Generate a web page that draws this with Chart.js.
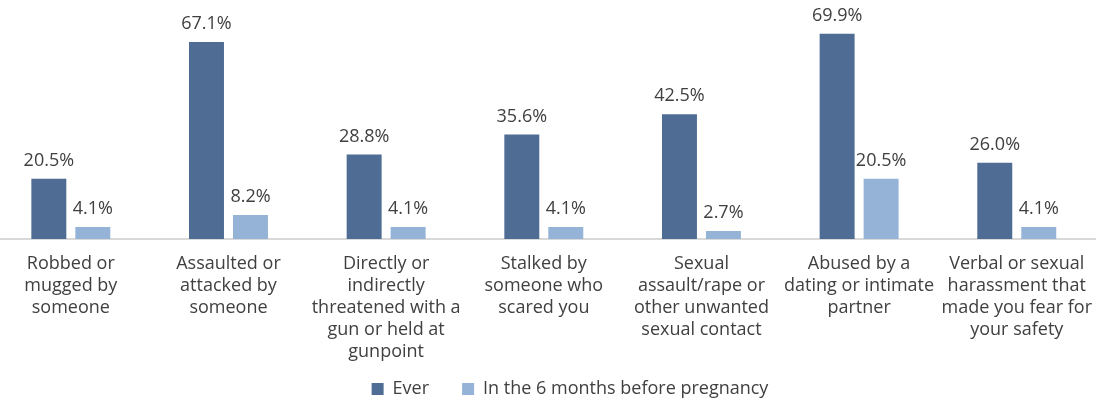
<!DOCTYPE html>
<html>
<head>
<meta charset="utf-8">
<script src="https://cdn.jsdelivr.net/npm/chart.js@4.4.0/dist/chart.umd.min.js"></script>
<style>
  html, body { margin: 0; padding: 0; background: #fff; overflow: hidden; }
  #wrap { position: absolute; left: -8px; top: 0; width: 1106px; height: 401px; }
</style>
</head>
<body>
<div id="wrap"><canvas id="chart"></canvas></div>
<script>
const categories = [
  ["Robbed or", "mugged by", "someone"],
  ["Assaulted or", "attacked by", "someone"],
  ["Directly or", "indirectly", "threatened with a", "gun or held at", "gunpoint"],
  ["Stalked by", "someone who", "scared you"],
  ["Sexual", "assault/rape or", "other unwanted", "sexual contact"],
  ["Abused by a", "dating or intimate", "partner"],
  ["Verbal or sexual", "harassment that", "made you fear for", "your safety"]
];
const everValues = [20.5, 67.1, 28.8, 35.6, 42.5, 69.9, 26.0];
const sixMonthValues = [4.1, 8.2, 4.1, 4.1, 2.7, 20.5, 4.1];

const textColor = "#404040";
const fontFamily = "'Open Sans', 'Noto Sans', sans-serif";

// draws the percentage above each bar
const valueLabels = {
  id: "valueLabels",
  afterDatasetsDraw(chart) {
    const ctx = chart.ctx;
    ctx.save();
    ctx.font = "18px " + fontFamily;
    ctx.fillStyle = textColor;
    ctx.textAlign = "center";
    ctx.textBaseline = "middle";
    chart.data.datasets.forEach(function (ds, i) {
      chart.getDatasetMeta(i).data.forEach(function (bar, j) {
        ctx.fillText(ds.data[j].toFixed(1) + "%", bar.x, bar.y - 18);
      });
    });
    ctx.restore();
  }
};

// nudge the legend so it sits where the original one was
const legendShift = {
  id: "legendShift",
  afterLayout(chart) {
    const lg = chart.legend;
    lg.left += 25;
    lg.right += 25;
    lg.top -= 22;
    lg.bottom -= 22;
  }
};

document.addEventListener("DOMContentLoaded", function () {
  new Chart(document.getElementById("chart").getContext("2d"), {
    type: "bar",
    data: {
      labels: categories,
      datasets: [
        {
          label: "Ever",
          data: everValues,
          backgroundColor: "#4f6d94",
          categoryPercentage: 0.558,
          barPercentage: 0.795,
        },
        {
          label: "In the 6 months before pregnancy",
          data: sixMonthValues,
          backgroundColor: "#95b3d7",
          categoryPercentage: 0.558,
          barPercentage: 0.795,
        },
      ],
    },
    plugins: [valueLabels, legendShift],
    options: {
      responsive: true,
      maintainAspectRatio: false,
      animation: false,
      layout: { padding: { top: 4, bottom: -29 } },
      plugins: {
        tooltip: { enabled: false },
        legend: {
          position: "bottom",
          labels: {
            color: textColor,
            font: { family: fontFamily, size: 18 },
            boxWidth: 12,
            boxHeight: 12,
            padding: 33,
          },
        },
      },
      scales: {
        x: {
          grid: { display: false },
          border: { color: "#d9d9d9", width: 2 },
          ticks: {
            color: textColor,
            font: { family: fontFamily, size: 18, lineHeight: 22 / 18 },
            maxRotation: 0,
            autoSkip: false,
            padding: 6,
          },
        },
        y: {
          display: false,
          min: 0,
          max: 80,
        },
      },
    },
  });
});
</script>
</body>
</html>
